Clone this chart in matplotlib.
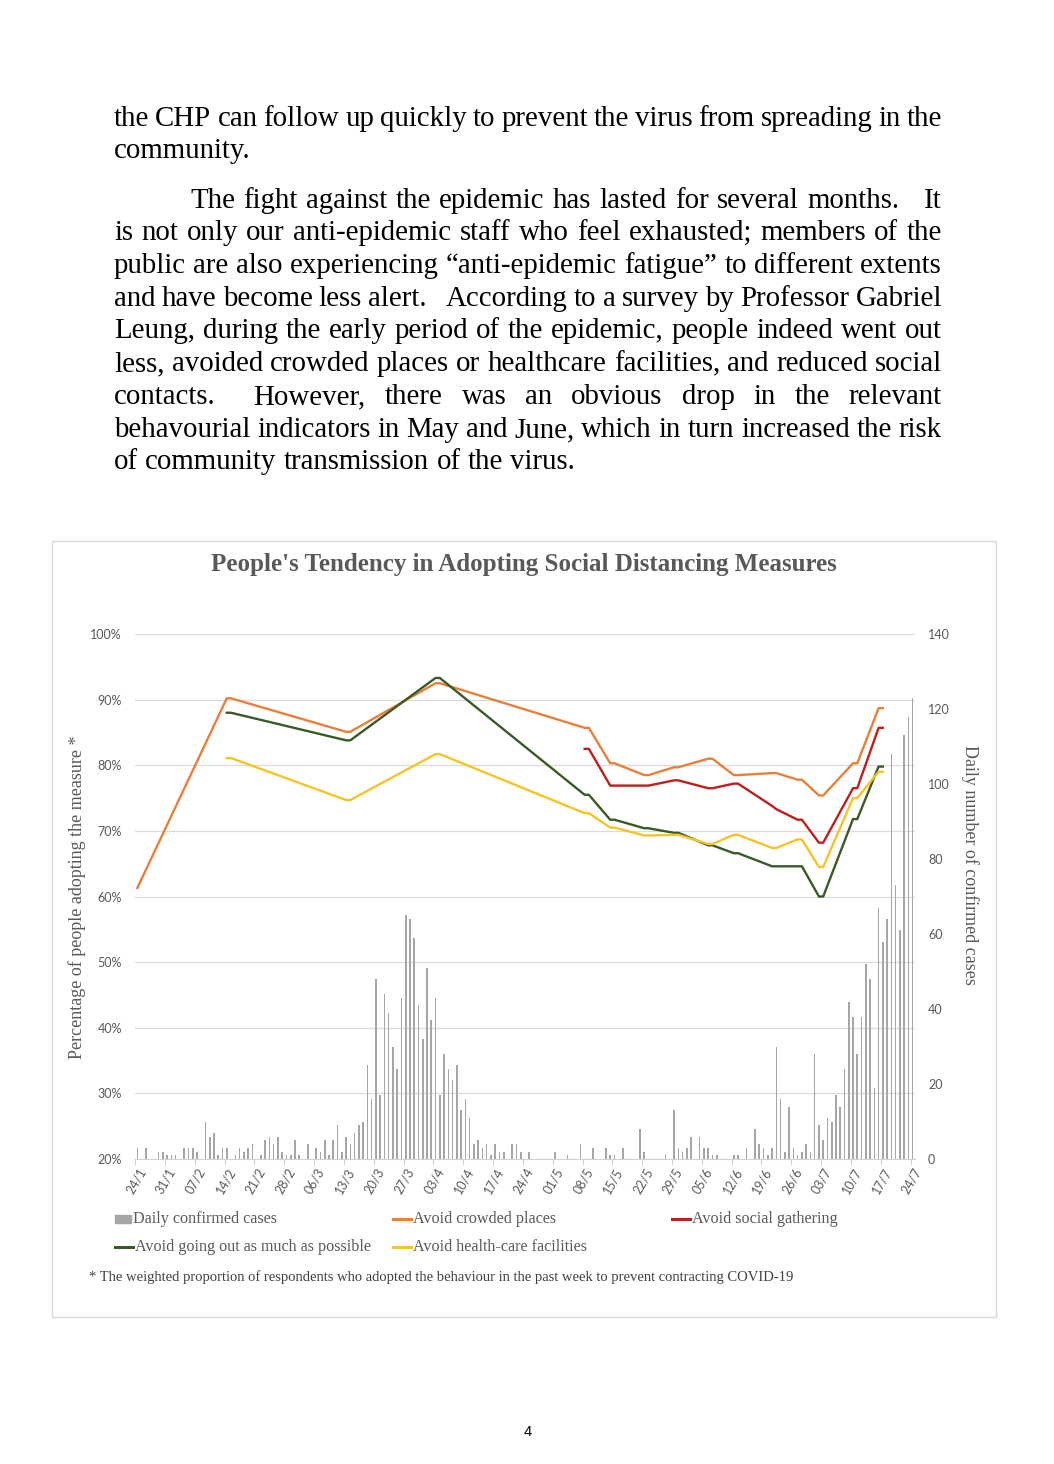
import re
import numpy as np
import pandas as pd
import matplotlib
matplotlib.use('Agg')
import matplotlib.pyplot as plt
import matplotlib.transforms as mtransforms
from matplotlib.patches import Rectangle
from matplotlib.lines import Line2D

# Page size in pixels (dpi 100)
W, H = 1054, 1464
SERIF = 'Liberation Serif'
SANS = 'Lato'
GREY_TXT = '#595959'

# Colours
C_BAR = '#A6A6A6'
C_CROWD = '#E8803A'
C_SOCIAL = '#BE1E1E'
C_GOOUT = '#3A5A25'
C_HEALTH = '#F7C325'
C_GRID = '#DCDCDC'

# ---- data ----
START = '2020-01-24'
END = '2020-07-24'

# daily confirmed cases, 24/1 .. 24/7
daily_cases = [
    3, 0, 3, 0, 0, 2, 2, 1, 1, 1,
    0, 3, 3, 3, 2, 0, 10, 6, 7, 1,
    3, 3, 0, 1, 3, 2, 3, 4, 0, 1,
    5, 6, 4, 6, 2, 1, 1, 5, 1, 0,
    4, 0, 3, 2, 5, 1, 5, 9, 2, 6,
    4, 7, 9, 10, 25, 16, 48, 17, 44, 39,
    30, 24, 43, 65, 64, 59, 41, 32, 51, 37,
    43, 17, 28, 24, 21, 25, 13, 16, 11, 4,
    5, 3, 4, 1, 4, 2, 2, 0, 4, 4,
    2, 0, 2, 0, 0, 0, 0, 0, 2, 0,
    0, 1, 0, 0, 4, 0, 0, 3, 0, 0,
    3, 1, 1, 0, 3, 0, 0, 0, 8, 2,
    0, 0, 0, 0, 1, 0, 13, 3, 2, 3,
    6, 0, 6, 3, 3, 1, 1, 0, 0, 0,
    1, 1, 0, 3, 0, 8, 4, 3, 1, 3,
    30, 16, 2, 14, 3, 1, 2, 4, 2, 28,
    9, 5, 11, 10, 17, 14, 24, 42, 38, 28,
    38, 52, 48, 19, 67, 58, 64, 108, 73, 61,
    113, 118, 123,
]

survey_dates = [
    '2020-01-24', '2020-02-14', '2020-02-15', '2020-03-13', '2020-03-14',
    '2020-04-03', '2020-04-04', '2020-05-08', '2020-05-09', '2020-05-14',
    '2020-05-15', '2020-05-22', '2020-05-23', '2020-05-29', '2020-05-30',
    '2020-06-06', '2020-06-07', '2020-06-12', '2020-06-13', '2020-06-21',
    '2020-06-22', '2020-06-27', '2020-06-28', '2020-07-02', '2020-07-03',
    '2020-07-10', '2020-07-11', '2020-07-16', '2020-07-17',
]
nan = np.nan
crowded = [61.3, 90.2, 90.2, 85.1, 85.1, 92.5, 92.5, 85.7, 85.7, 80.3,
           80.3, 78.5, 78.5, 79.7, 79.7, 81.0, 81.0, 78.5, 78.5, 78.8,
           78.8, 77.8, 77.8, 75.4, 75.4, 80.3, 80.3, 88.7, 88.7]
social = [nan, nan, nan, nan, nan, nan, nan, 82.5, 82.5, 76.9,
          76.9, 76.9, 76.9, 77.7, 77.7, 76.5, 76.5, 77.2, 77.2, 73.8,
          73.3, 71.7, 71.7, 68.2, 68.2, 76.5, 76.5, 85.7, 85.7]
going_out = [nan, 88.0, 88.0, 83.8, 83.8, 93.3, 93.3, 75.5, 75.5, 71.7,
             71.7, 70.4, 70.4, 69.7, 69.7, 67.8, 67.8, 66.6, 66.6, 64.6,
             64.6, 64.6, 64.6, 60.0, 60.0, 71.8, 71.8, 79.8, 79.8]
health = [nan, 81.1, 81.1, 74.7, 74.7, 81.7, 81.7, 72.7, 72.7, 70.5,
          70.5, 69.3, 69.3, 69.4, 69.4, 68.0, 68.0, 69.4, 69.4, 67.4,
          67.4, 68.7, 68.7, 64.5, 64.5, 75.0, 75.0, 79.0, 79.0]

pct_ticks = [20, 30, 40, 50, 60, 70, 80, 90, 100]
case_ticks = [0, 20, 40, 60, 80, 100, 120, 140]

# ---- page text ----
paragraph_lines = [
    # text, left, right (None = not justified), baseline
    ("the CHP can follow up quickly to prevent the virus from spreading in the", 114, 942, 126),
    ("community.", 114, None, 158),
    ("The fight against the epidemic has lasted for several months.   It", 190, 942, 208),
    ("is not only our anti-epidemic staff who feel exhausted; members of the", 114, 942, 240),
    ("public are also experiencing \u201canti-epidemic fatigue\u201d to different extents", 114, 942, 273),
    ("and have become less alert.   According to a survey by Professor Gabriel", 114, 942, 306),
    ("Leung, during the early period of the epidemic, people indeed went out", 114, 942, 338),
    ("less, avoided crowded places or healthcare facilities, and reduced social", 114, 942, 371),
    ("contacts.  However, there was an obvious drop in the relevant", 114, 942, 404),
    ("behavourial indicators in May and June, which in turn increased the risk", 114, 942, 437),
    ("of community transmission of the virus.", 114, None, 469),
]


def text_width(ax, renderer, s, **kw):
    t = ax.text(0, 0, s, **kw)
    w = t.get_window_extent(renderer=renderer).width
    t.remove()
    return w


def draw_line_of_text(ax, renderer, text, x0, x1, y, **kw):
    tokens = re.split(r'( +)', text)
    words = tokens[0::2]
    spaces = [len(s) for s in tokens[1::2]]
    sp_w = text_width(ax, renderer, 'x x', **kw) - text_width(ax, renderer, 'xx', **kw)
    widths = [text_width(ax, renderer, w, **kw) for w in words]
    if x1 is None or not spaces:
        gap = sp_w
    else:
        gap = (x1 - x0 - sum(widths)) / sum(spaces)
    x = x0
    for i, w in enumerate(words):
        ax.text(x, y, w, ha='left', va='baseline', **kw)
        x += widths[i]
        if i < len(spaces):
            x += gap * spaces[i]


def main():
    fig = plt.figure(figsize=(W / 100, H / 100), dpi=100)
    fig.patch.set_facecolor('white')

    page = fig.add_axes([0, 0, 1, 1])
    page.set_xlim(0, W)
    page.set_ylim(H, 0)
    page.axis('off')
    renderer = fig.canvas.get_renderer()

    body = dict(fontfamily=SERIF, fontsize=20.8, color='black')
    for text, x0, x1, y in paragraph_lines:
        draw_line_of_text(page, renderer, text, x0, x1, y, **body)

    # chart frame
    page.add_patch(Rectangle((52, 541), 944, 776, fill=False, edgecolor='#D9D9D9', lw=1))
    page.text(524, 564, "People's Tendency in Adopting Social Distancing Measures",
              ha='center', va='center', fontfamily=SERIF, fontweight='bold',
              fontsize=18, color=GREY_TXT)

    # axis titles
    page.text(77, 897, 'Percentage of people adopting the measure *', rotation=90,
              ha='center', va='center', fontfamily=SERIF, fontsize=13, color=GREY_TXT)
    page.text(970, 865, 'Daily number of confirmed cases', rotation=270,
              ha='center', va='center', fontfamily=SERIF, fontsize=13, color=GREY_TXT)

    # plot area
    left, right, top, bottom = 135.2, 914.8, 634, 1159
    ax = fig.add_axes([left / W, 1 - bottom / H, (right - left) / W, (bottom - top) / H])
    ax.set_facecolor('none')
    ax_l = ax.twinx()

    days = pd.date_range(START, END)
    x = np.arange(len(days))
    ax.bar(x, daily_cases, width=0.38, color=C_BAR, zorder=2)
    ax.set_xlim(-0.5, len(days) - 0.5)
    ax.set_ylim(0, 140)

    # gridlines follow the percentage ticks
    for p in pct_ticks[1:]:
        ax.axhline((p - 20) / 80 * 140, color=C_GRID, lw=0.9, zorder=1)

    sx = (pd.to_datetime(survey_dates) - pd.Timestamp(START)).days
    ax_l.plot(sx, crowded, color=C_CROWD, lw=1.7, zorder=3)
    ax_l.plot(sx, social, color=C_SOCIAL, lw=1.7, zorder=3)
    ax_l.plot(sx, going_out, color=C_GOOUT, lw=1.7, zorder=3)
    ax_l.plot(sx, health, color=C_HEALTH, lw=1.7, zorder=3)
    ax_l.set_ylim(20, 100)

    # y axes: percentage on the left, cases on the right
    ax_l.yaxis.tick_left()
    ax.yaxis.tick_right()
    ax_l.set_yticks(pct_ticks)
    ax_l.set_yticklabels([f'{p}%' for p in pct_ticks])
    ax.set_yticks(case_ticks)
    for a in (ax, ax_l):
        a.tick_params(axis='y', length=0, pad=9.5, labelsize=9, labelcolor=GREY_TXT)
        for lbl in a.get_yticklabels():
            lbl.set_fontfamily(SANS)
        for s in a.spines.values():
            s.set_visible(False)
    ax.spines['bottom'].set_visible(True)
    ax.spines['bottom'].set_color('#D0D0D0')

    # x axis: label every 7 days
    tick_pos = x[::7]
    ax.set_xticks(tick_pos)
    ax.set_xticklabels([f'{d.day:02d}/{d.month}' for d in days[::7]],
                       rotation=60, ha='right', va='center', rotation_mode='anchor')
    ax.set_xticks(tick_pos - 0.5, minor=True)
    ax.tick_params(axis='x', which='major', length=0, pad=7, labelsize=9, labelcolor=GREY_TXT)
    ax.tick_params(axis='x', which='minor', length=4, color='#C8C8C8')
    offset = mtransforms.ScaledTranslation(4 / 72, 0, fig.dpi_scale_trans)
    for lbl in ax.get_xticklabels():
        lbl.set_fontfamily(SANS)
        lbl.set_transform(lbl.get_transform() + offset)

    # legend (drawn on the page)
    leg = dict(fontfamily=SERIF, fontsize=11.6, color=GREY_TXT, va='center', ha='left')
    page.add_patch(Rectangle((115, 1215), 16, 8, color=C_BAR))
    page.text(133, 1219, 'Daily confirmed cases', **leg)
    items = [
        (393, 1219, C_CROWD, 'Avoid crowded places'),
        (672, 1219, C_SOCIAL, 'Avoid social gathering'),
        (115, 1247, C_GOOUT, 'Avoid going out as much as possible'),
        (393, 1247, C_HEALTH, 'Avoid health-care facilities'),
    ]
    for lx, ly, c, name in items:
        page.add_line(Line2D([lx, lx + 18], [ly, ly], color=c, lw=2.2))
        page.text(lx + 20, ly, name, **leg)

    page.text(89, 1277, '* The weighted proportion of respondents who adopted the behaviour '
              'in the past week to prevent contracting COVID-19',
              fontfamily=SERIF, fontsize=10.5, color='#404040', va='center', ha='left')

    page.text(528, 1432, '4', fontfamily='Liberation Sans', fontsize=10.5,
              color='black', ha='center', va='center')

    fig.savefig('out.png', dpi=100, facecolor='white')
    print('saved out.png')


if __name__ == '__main__':
    main()
